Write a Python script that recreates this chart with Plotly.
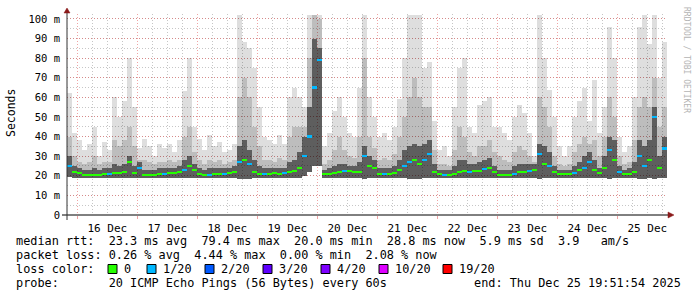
import numpy as np
import pandas as pd
import plotly.graph_objects as go

# ---------------- data (2-hour steps starting 2025-12-15 20:00) ----------------
step_start = "2025-12-15 20:00"
step_hours = 2

rtt_max = [62, 42, 38, 33, 36, 45, 30, 37, 33, 60,
           50, 58, 80, 55, 34, 39, 35, 30, 36, 34,
           36, 32, 38, 63, 80, 45, 39, 33, 41, 35,
           37, 32, 33, 36, 102, 88, 85, 75, 55, 40,
           38, 36, 41, 36, 60, 65, 60, 55, 102, 102,
           102, 35, 42, 53, 60, 50, 42, 40, 65, 102,
           60, 50, 40, 42, 38, 45, 59, 80, 102, 102,
           102, 75, 78, 48, 33, 35, 30, 55, 75, 80,
           45, 42, 56, 58, 60, 45, 45, 42, 38, 50,
           56, 52, 42, 30, 102, 80, 64, 50, 35, 30,
           35, 50, 58, 65, 48, 69, 42, 55, 96, 80,
           40, 32, 35, 60, 96, 102, 87, 102, 70, 88]

rtt_mid = [40, 30, 27, 26, 27, 30, 26, 27, 27, 38,
           35, 38, 45, 35, 28, 28, 27, 26, 27, 27,
           28, 27, 28, 40, 45, 32, 28, 26, 28, 27,
           28, 26, 27, 28, 60, 70, 60, 45, 35, 28,
           28, 27, 29, 28, 40, 45, 45, 45, 80, 102,
           100, 26, 28, 33, 40, 33, 30, 29, 40, 80,
           40, 34, 28, 29, 28, 31, 40, 50, 60, 70,
           60, 55, 55, 33, 26, 26, 25, 33, 45, 40,
           32, 30, 35, 35, 38, 32, 30, 28, 27, 32,
           35, 33, 30, 27, 60, 55, 45, 30, 26, 25,
           26, 32, 36, 40, 36, 38, 30, 40, 60, 50,
           30, 26, 27, 38, 55, 60, 55, 70, 45, 55]

rtt_core = [30, 25, 24, 23, 23, 24, 23, 24, 24, 26,
            25, 26, 30, 25, 27, 23, 23, 23, 24, 24,
            24, 24, 25, 28, 30, 26, 24, 23, 24, 24,
            24, 24, 24, 25, 35, 38, 33, 28, 25, 24,
            24, 24, 24, 24, 27, 28, 32, 40, 55, 90,
            85, 23, 24, 25, 26, 26, 25, 25, 27, 35,
            30, 28, 24, 24, 24, 25, 28, 33, 35, 36,
            35, 36, 38, 26, 23, 23, 23, 25, 28, 28,
            26, 26, 27, 28, 29, 25, 23, 23, 23, 25,
            26, 26, 26, 26, 36, 35, 32, 25, 23, 23,
            23, 25, 27, 30, 32, 28, 24, 30, 40, 38,
            25, 23, 24, 27, 38, 35, 38, 55, 30, 40]

rtt_min = [19.5, 19, 19, 19, 19, 19, 19, 19, 19, 19,
           19, 19, 19, 19, 19, 19, 19, 19, 19, 19,
           19, 19, 19, 19, 19, 19, 19, 19, 19, 19,
           19, 19, 19, 19, 18.5, 18.5, 18.5, 19, 19, 19,
           19, 19, 19, 19, 19, 19, 19, 20, 22, 25,
           25, 19, 19, 19, 19, 19, 19, 19, 19, 18.5,
           19, 19, 19, 19, 19, 19, 19, 19, 18.5, 18.5,
           18.5, 19, 19, 19, 19, 19, 19, 19, 19, 19,
           19, 19, 19, 19, 19, 19, 19, 19, 19, 19,
           19, 19, 19, 19, 18.5, 19, 19, 19, 19, 19,
           19, 19, 19, 19, 19, 19, 19, 19, 18.5, 19,
           19, 19, 19, 19, 18.5, 18.5, 19, 18.5, 19, 19]

rtt_median = [25, 22, 21.5, 20.5, 20.5, 20.5, 20.5, 21, 21, 21.5,
              21.5, 22, 27, 21.5, 24, 20.5, 20.5, 20.5, 21, 21,
              21.5, 21.5, 22, 23, 25, 23, 21, 20.5, 20.5, 21,
              21, 21, 21.5, 22, 27, 28, 26, 22, 21, 21,
              21, 21.5, 21, 21.5, 22, 22.5, 24, 30, 40, 65,
              79, 21, 21, 21.5, 22, 22.5, 22.5, 22, 22, 30,
              25, 24, 21, 21, 21, 21.5, 23, 25, 27, 28,
              26, 28, 31, 22, 21, 20.5, 20.5, 21, 22, 22.5,
              22, 22.5, 22.5, 23.5, 24, 22, 20.5, 20.5, 20.5, 21,
              22, 22, 22.5, 23, 31, 26, 25, 22, 21, 21,
              21, 21.5, 23, 24, 27, 23, 21.5, 24, 33, 28,
              22, 21, 21, 22, 30, 25, 28, 50, 24, 34]

loss_count = [1, 0, 0, 0, 0, 0, 0, 0, 1, 0,
              0, 0, 0, 0, 1, 0, 0, 0, 0, 1,
              0, 0, 0, 1, 0, 0, 0, 0, 1, 0,
              0, 1, 0, 0, 1, 0, 1, 0, 0, 1,
              0, 0, 0, 1, 0, 0, 0, 1, 1, 1,
              1, 0, 0, 0, 0, 1, 0, 0, 0, 1,
              0, 0, 0, 1, 0, 0, 0, 1, 1, 0,
              0, 1, 1, 0, 0, 1, 0, 0, 0, 0,
              1, 0, 0, 1, 0, 0, 0, 0, 0, 1,
              0, 0, 1, 0, 1, 0, 1, 0, 0, 0,
              0, 1, 0, 1, 1, 0, 0, 0, 1, 0,
              1, 0, 0, 0, 1, 1, 0, 1, 0, 1]

loss_labels = ["0", "1/20", "2/20", "3/20", "4/20", "10/20", "19/20"]
loss_level_counts = [0, 1, 2, 3, 4, 10, 19]
loss_colors = ["#26ff00", "#00b8ff", "#0059ff", "#5e00ff", "#7e00ff", "#dd00ff", "#ff0000"]

y_tick_vals = [0, 10, 20, 30, 40, 50, 60, 70, 80, 90, 100]
y_tick_text = ["0", "10 m", "20 m", "30 m", "40 m", "50 m", "60 m", "70 m", "80 m", "90 m", "100 m"]

legend_rtt = "median rtt:  23.3 ms avg  79.4 ms max  20.0 ms min  28.8 ms now  5.9 ms sd  3.9   am/s"
legend_loss = "packet loss: 0.26 % avg  4.44 % max  0.00 % min  2.08 % now"
legend_probe = "probe:       20 ICMP Echo Pings (56 Bytes) every 60s"
legend_end = "end: Thu Dec 25 19:51:54 2025"

x_range = ["2025-12-15 19:51:54", "2025-12-25 19:51:54"]

# ---------------- figure ----------------
W, H = 697, 297
L, R, T, B = 67, 30, 14, 82
PW, PH = W - L - R, H - T - B

def px(x):
    return (x - L) / PW

def py(y):
    return (H - B - y) / PH

times = pd.date_range(step_start, periods=len(rtt_median), freq=f"{step_hours}h")
bw = step_hours * 3600 * 1000
lo = np.array(rtt_min, dtype=float)

fig = go.Figure()
for top, col in [(rtt_max, "rgba(0,0,0,0.13)"),
                 (rtt_mid, "rgba(0,0,0,0.15)"),
                 (rtt_core, "rgba(0,0,0,0.50)")]:
    fig.add_trace(go.Bar(x=times, base=lo, y=np.array(top, dtype=float) - lo,
                         width=bw, offset=0, marker_color=col, marker_line_width=0,
                         hoverinfo="skip", showlegend=False))

color_of = {c: col for c, col in zip(loss_level_counts, loss_colors)}
med = np.array(rtt_median, dtype=float)
fig.add_trace(go.Bar(x=times, base=med - 0.6, y=np.full(len(med), 1.2),
                     width=bw, offset=0,
                     marker_color=[color_of[c] for c in loss_count],
                     marker_line_width=0, hoverinfo="skip", showlegend=False))

mono = "DejaVu Sans Mono"
red_grid = "rgba(225,90,90,0.55)"
gray_grid = "rgba(160,160,160,0.6)"

fig.update_layout(
    width=W, height=H, margin=dict(l=L, r=R, t=T, b=B),
    paper_bgcolor="white", plot_bgcolor="white",
    barmode="overlay", bargap=0, showlegend=False,
    font=dict(family=mono, size=11, color="black"),
    xaxis=dict(type="date", range=x_range, tick0="2025-12-16", dtick=86400000,
               ticklabelmode="period", tickformat="%d %b",
               showgrid=True, gridcolor=red_grid, griddash="1px,2px", gridwidth=1,
               ticks="outside", ticklen=3, tickcolor=red_grid,
               minor=dict(dtick=6 * 3600 * 1000, showgrid=True, gridcolor=gray_grid,
                          griddash="1px,2px", ticks=""),
               showline=False, zeroline=False,
               tickfont=dict(family=mono, size=11)),
    yaxis=dict(range=[0, 102.5], tickmode="array", tickvals=y_tick_vals, ticktext=y_tick_text,
               showgrid=True, gridcolor=red_grid, griddash="1px,2px",
               minor=dict(tickmode="linear", tick0=0, dtick=5, showgrid=True,
                          gridcolor=gray_grid, griddash="1px,2px", ticks=""),
               showline=False, zeroline=False, ticks="", ticklabelstandoff=6,
               tickfont=dict(family=mono, size=10.5)),
)

shapes = []
# axis lines (extended like rrdtool)
shapes.append(dict(type="line", xref="paper", yref="paper", xsizemode="pixel", xanchor=0,
                   x0=-5, x1=PW + 2, y0=0, y1=0, line=dict(color="black", width=1)))
shapes.append(dict(type="line", xref="paper", yref="paper", ysizemode="pixel", yanchor=0,
                   x0=0, x1=0, y0=-5, y1=PH + 2, line=dict(color="#333333", width=1)))
# arrows
shapes.append(dict(type="path", xref="paper", yref="paper", xsizemode="pixel", ysizemode="pixel",
                   xanchor=0, yanchor=1, path="M -3,1 L 3,1 L 0,6 Z",
                   fillcolor="#8b1a1a", line=dict(color="#8b1a1a", width=0.5)))
shapes.append(dict(type="path", xref="paper", yref="paper", xsizemode="pixel", ysizemode="pixel",
                   xanchor=1, yanchor=0, path="M 1,-3 L 1,3 L 7,0 Z",
                   fillcolor="#8b1a1a", line=dict(color="#8b1a1a", width=0.5)))

annotations = []
def txt(x, y, s, anchor="left", size=11.85, color="black", angle=0, family=mono):
    annotations.append(dict(xref="paper", yref="paper", x=px(x), y=py(y), text=s,
                            showarrow=False, xanchor=anchor, yanchor="middle",
                            textangle=angle, borderpad=0,
                            font=dict(family=family, size=size, color=color)))

txt(15, 241, legend_rtt.replace(" ", "&nbsp;"))
txt(15, 255, legend_loss.replace(" ", "&nbsp;"))
txt(15, 269, "loss color:")
txt(15, 283, legend_probe.replace(" ", "&nbsp;"))
txt(682, 283, legend_end.replace(" ", "&nbsp;"), anchor="right")

sq_left = [108, 147, 205, 263, 321, 379, 443]
for xl, lab, col in zip(sq_left, loss_labels, loss_colors):
    shapes.append(dict(type="rect", xref="paper", yref="paper",
                       x0=px(xl), x1=px(xl + 9), y0=py(273.5), y1=py(264.5),
                       fillcolor=col, line=dict(color="black", width=1)))
    txt(xl + 15, 269, lab)

txt(11, 113, "Seconds", anchor="center", size=11.5, angle=-90)
txt(686, 60, "RRDTOOL / TOBI OETIKER", anchor="center", size=8, color="#b4b4b4", angle=90)

fig.update_layout(shapes=shapes, annotations=annotations)
fig.write_html("out.html")
